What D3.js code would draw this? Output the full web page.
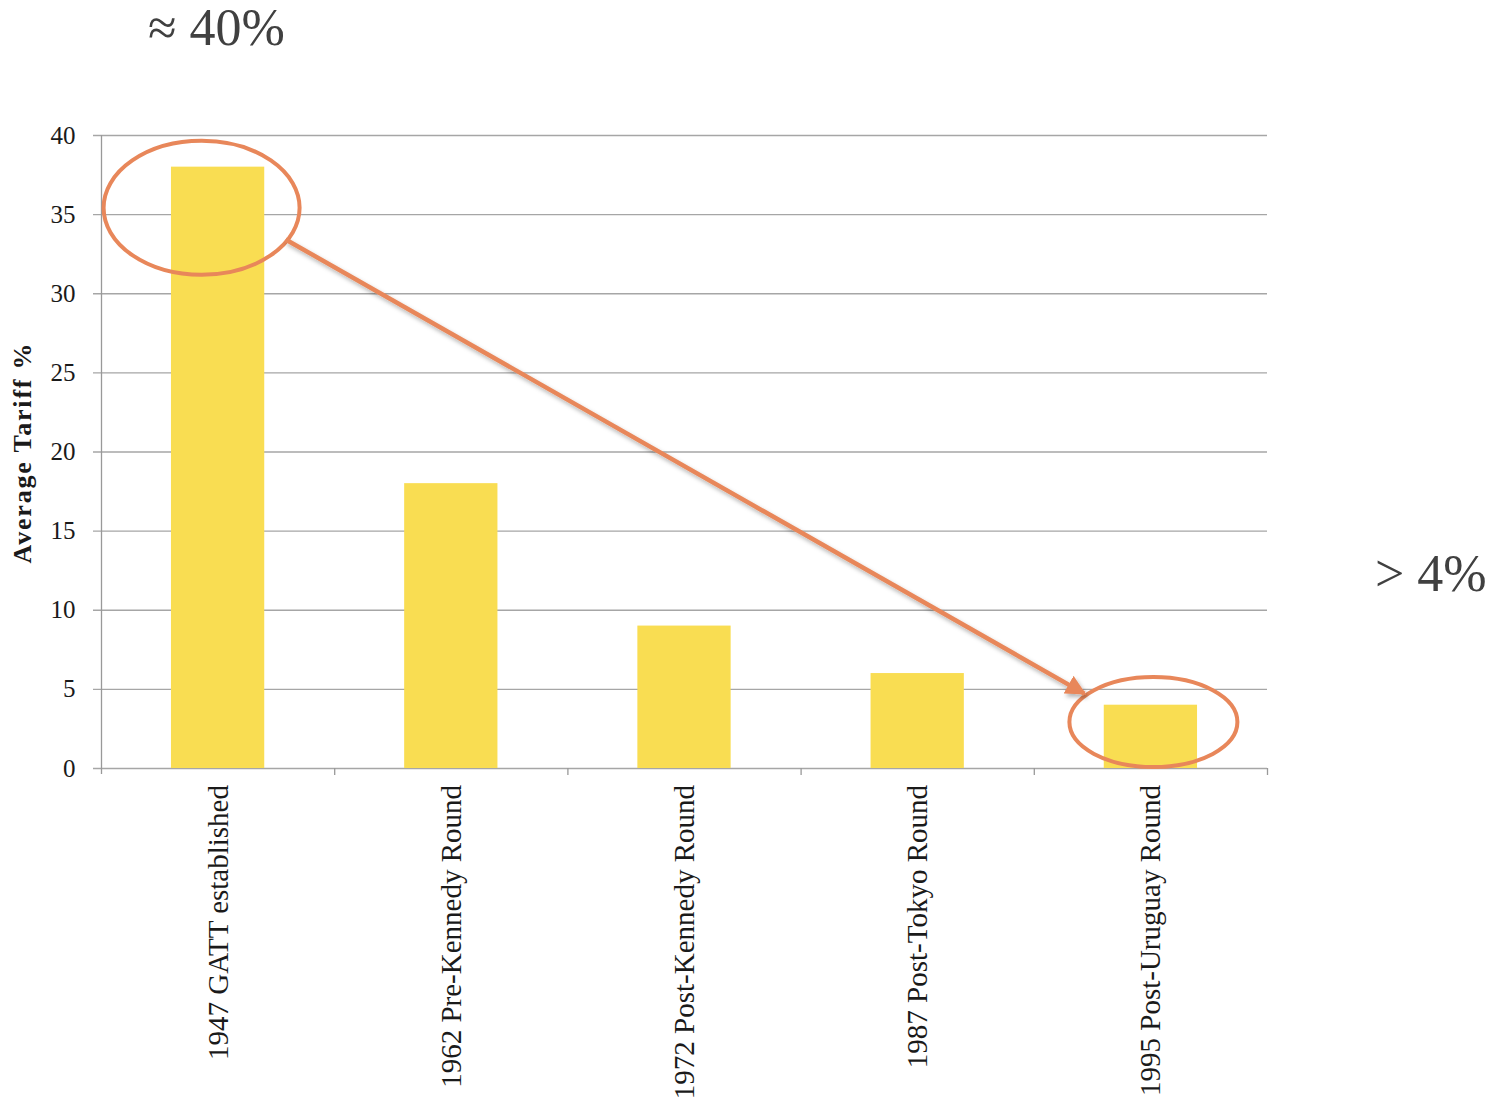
<!DOCTYPE html>
<html>
<head>
<meta charset="utf-8">
<script src="https://cdn.jsdelivr.net/npm/d3@7"></script>
<style>
  html, body { margin: 0; padding: 0; background: #fff; }
</style>
</head>
<body>
<div id="chart"></div>
<script>
const categories = [
    "1947 GATT established",
    "1962 Pre-Kennedy Round",
    "1972 Post-Kennedy Round",
    "1987 Post-Tokyo Round",
    "1995 Post-Uruguay Round"
];
const tariffs = [38, 18, 9, 6, 4];
const yTicks = [0, 5, 10, 15, 20, 25, 30, 35, 40];
const yTitle = "Average Tariff %";
const noteStart = "\u2248 40%";
const noteEnd = "> 4%";

const colors = {
    bar: "#f9dd52",
    grid: "#a6a6a6",
    axis: "#999999",
    text: "#1a1a1a",
    note: "#404040",
    mark: "#e8875a",
};

const width = 1502;
const height = 1099;
const margins = { top: 135, right: 235, bottom: 331, left: 101 };

const svg = d3.select("#chart")
    .append("svg")
    .attr("width", width)
    .attr("height", height)
    .style("font-family", "'Liberation Serif', 'Times New Roman', serif");

const x = d3.scaleBand()
    .domain(categories)
    .range([margins.left, width - margins.right])
    .paddingInner(0)
    .paddingOuter(0);

const y = d3.scaleLinear()
    .domain([0, 40])
    .range([height - margins.bottom, margins.top]);

const barW = x.bandwidth() * 0.4;
const barX = c => x(c) + x.bandwidth() * 0.3;
const mid = c => x(c) + x.bandwidth() / 2;

// gridlines
svg.append("g")
    .selectAll("line")
    .data(yTicks)
    .join("line")
    .attr("x1", margins.left - 8)
    .attr("x2", width - margins.right)
    .attr("y1", d => y(d) + 0.5)
    .attr("y2", d => y(d) + 0.5)
    .attr("stroke", colors.grid)
    .attr("stroke-width", 1.3);

// y axis
const gy = svg.append("g")
    .attr("transform", `translate(${margins.left + 0.5},0)`)
    .call(d3.axisLeft(y).tickValues(yTicks).tickSize(0).tickPadding(26))
    .call(g => g.select(".domain").remove());
gy.selectAll("text")
    .attr("font-size", 25)
    .attr("font-family", "'Liberation Serif', serif")
    .attr("fill", colors.text);

svg.append("line")
    .attr("x1", margins.left + 0.5)
    .attr("x2", margins.left + 0.5)
    .attr("y1", y(40))
    .attr("y2", y(0) + 6)
    .attr("stroke", colors.axis)
    .attr("stroke-width", 1.3);

// x axis ticks at category boundaries
const bounds = categories.map(c => x(c)).concat([x(categories[categories.length - 1]) + x.bandwidth()]);
svg.append("g")
    .selectAll("line")
    .data(bounds.slice(1))
    .join("line")
    .attr("x1", d => d + 0.5)
    .attr("x2", d => d + 0.5)
    .attr("y1", y(0))
    .attr("y2", y(0) + 7)
    .attr("stroke", colors.axis)
    .attr("stroke-width", 1.3);

// bars
svg.append("g")
    .selectAll("rect")
    .data(categories.map((c, i) => ({ name: c, value: tariffs[i] })))
    .join("rect")
    .attr("x", d => barX(d.name))
    .attr("y", d => y(d.value))
    .attr("width", barW)
    .attr("height", d => y(0) - y(d.value))
    .attr("fill", colors.bar);

// x labels
svg.append("g")
    .selectAll("text")
    .data(categories)
    .join("text")
    .attr("transform", d => `translate(${mid(d) + 10},${y(0) + 17}) rotate(-90)`)
    .attr("text-anchor", "end")
    .attr("font-size", 29)
    .attr("fill", colors.text)
    .text(d => d);

// y title
svg.append("text")
    .attr("transform", `translate(31,${(y(40) + y(0)) / 2 + 1}) rotate(-90)`)
    .attr("text-anchor", "middle")
    .attr("font-size", 26)
    .attr("font-weight", "bold")
    .attr("letter-spacing", 1.8)
    .attr("fill", colors.text)
    .text(yTitle);

// annotations
const defs = svg.append("defs");
defs.append("marker")
    .attr("id", "head")
    .attr("viewBox", "0 0 10 10")
    .attr("refX", 9)
    .attr("refY", 5)
    .attr("markerWidth", 4.5)
    .attr("markerHeight", 4.5)
    .attr("orient", "auto")
    .append("path")
    .attr("d", "M0,0 L10,5 L0,10 z")
    .attr("fill", colors.mark);
defs.append("filter")
    .attr("id", "shadow")
    .append("feDropShadow")
    .attr("dx", 2)
    .attr("dy", 3)
    .attr("stdDeviation", 2)
    .attr("flood-color", "#000")
    .attr("flood-opacity", 0.3);

const first = categories[0];
const last = categories[categories.length - 1];

svg.append("ellipse")
    .attr("cx", mid(first) - 16)
    .attr("cy", y(35.4))
    .attr("rx", 98)
    .attr("ry", 67)
    .attr("fill", "none")
    .attr("stroke", colors.mark)
    .attr("stroke-width", 4);

svg.append("ellipse")
    .attr("cx", mid(last) + 3)
    .attr("cy", y(2.9))
    .attr("rx", 84)
    .attr("ry", 45)
    .attr("fill", "none")
    .attr("stroke", colors.mark)
    .attr("stroke-width", 4);

svg.append("line")
    .attr("x1", mid(first) + 68)
    .attr("y1", y(33.4))
    .attr("x2", mid(last) - 66)
    .attr("y2", y(4.7))
    .attr("stroke", colors.mark)
    .attr("stroke-width", 4.5)
    .attr("marker-end", "url(#head)")
    .attr("filter", "url(#shadow)");

svg.append("text")
    .attr("x", 148)
    .attr("y", 45)
    .attr("font-size", 52)
    .attr("fill", colors.note)
    .text(noteStart);

svg.append("text")
    .attr("x", 1375)
    .attr("y", 591)
    .attr("font-size", 52)
    .attr("fill", colors.note)
    .text(noteEnd);
</script>
</body>
</html>
